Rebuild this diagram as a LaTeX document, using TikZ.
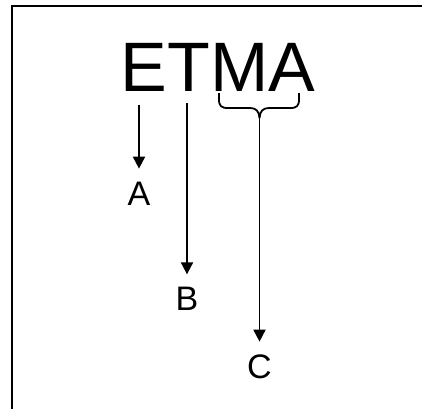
\documentclass[tikz,border=0pt]{standalone}
\usepackage{fontspec}
\setmainfont{Liberation Sans}
\usetikzlibrary{arrows.meta}
\tikzset{
  frame/.style={line width=2pt},
  arr/.style={line width=1.8pt, -{Triangle[width=12pt,length=12pt]}},
  lbl/.style={font=\fontsize{34}{34}\selectfont, text height=24.3pt, text depth=0pt,
              inner xsep=0pt, inner ysep=12pt},
  word/.style={font=\fontsize{70}{70}\selectfont, inner sep=0pt, anchor=base west},
  bracepath/.style={line width=1.8pt, line join=round}
}
\begin{document}
\begin{tikzpicture}[x=1pt,y=-1pt]
  \useasboundingbox (0,0) rectangle (422,408);
  % open frame: top and left edges
  \draw[frame] (423,6) -- (12,6) -- (12,409);

  % the word
  \node[word] (word) at (120.6,91) {ETMA};

  % brace under "MA"
  \draw[bracepath] (219,93) -- (219,99) .. controls (219,106) and (221,108) .. (228,108)
    -- (250,108) .. controls (256,108) and (259,111) .. (259.5,118)
    .. controls (260,111) and (263,108) .. (269,108)
    -- (290,108) .. controls (297,108) and (299,106) .. (299,99) -- (299,93);

  % start points of the arrows
  \coordinate (sa) at (139,105);
  \coordinate (sb) at (187,103);
  \coordinate (sc) at (259.5,118);

  % labels
  \node[lbl] (A) at (139,193) {A};
  \node[lbl] (B) at (187,298.7) {B};
  \node[lbl] (C) at (259.5,366) {C};

  % arrows
  \draw[arr] (sa) -- (A.north);
  \draw[arr] (sb) -- (B.north);
  \draw[arr] (sc) -- (C.north);
\end{tikzpicture}
\end{document}
